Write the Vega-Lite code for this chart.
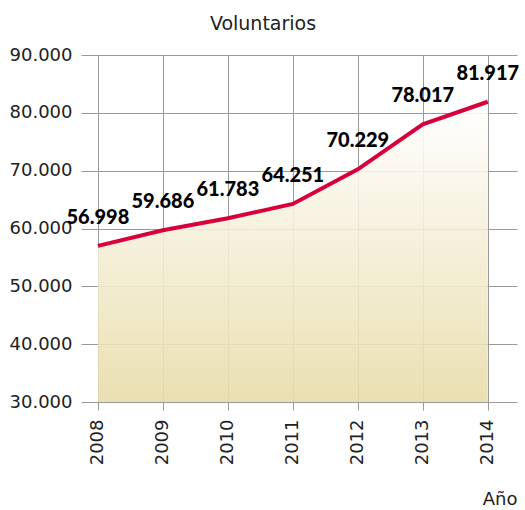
{
  "$schema": "https://vega.github.io/schema/vega-lite/v6.json",
  "autosize": "none",
  "width": 436,
  "height": 347,
  "padding": {"left": 81, "top": 55, "right": 8, "bottom": 108},
  "config": {
    "locale": {"number": {"decimal": ",", "thousands": ".", "grouping": [3], "currency": ["", " €"]}},
    "view": {"stroke": null},
    "font": "DejaVu Sans"
  },
  "title": {
    "text": "Voluntarios",
    "font": "DejaVu Sans",
    "fontSize": 19,
    "fontWeight": "normal",
    "color": "#222222",
    "anchor": "middle",
    "dx": -36,
    "offset": 12
  },
  "data": {
    "values": [
      {"year": 2008, "value": 56998},
      {"year": 2009, "value": 59686},
      {"year": 2010, "value": 61783},
      {"year": 2011, "value": 64251},
      {"year": 2012, "value": 70229},
      {"year": 2013, "value": 78017},
      {"year": 2014, "value": 81917}
    ]
  },
  "encoding": {
    "x": {
      "field": "year",
      "type": "quantitative",
      "scale": {"domain": [2007.74, 2014.45], "nice": false, "zero": false},
      "axis": {
        "values": [2008, 2009, 2010, 2011, 2012, 2013, 2014],
        "format": "d",
        "title": "Año",
        "titleFont": "DejaVu Sans",
        "titleFontSize": 18,
        "titleFontWeight": "normal",
        "titleColor": "#222222",
        "titleAnchor": "end",
        "titleAlign": "right",
        "titlePadding": 26,
        "labelFont": "DejaVu Sans",
        "labelAngle": -90,
        "labelAlign": "right",
        "labelBaseline": "middle",
        "labelFontSize": 18,
        "labelColor": "#222222",
        "labelPadding": 9,
        "tickSize": 8,
        "tickColor": "#999999",
        "domain": false,
        "grid": true,
        "gridColor": "#999999",
        "gridWidth": 1,
        "gridOpacity": 1
      }
    },
    "y": {
      "field": "value",
      "type": "quantitative",
      "scale": {"domain": [30000, 90000], "nice": false, "zero": false},
      "axis": {
        "values": [30000, 40000, 50000, 60000, 70000, 80000, 90000],
        "format": ",.0f",
        "title": null,
        "labelFont": "DejaVu Sans",
        "labelFontSize": 18,
        "labelColor": "#222222",
        "labelPadding": 9,
        "ticks": false,
        "domain": false,
        "grid": true,
        "gridColor": "#999999",
        "gridWidth": 1,
        "gridOpacity": 1
      }
    }
  },
  "layer": [
    {
      "mark": {
        "type": "area",
        "color": {
          "gradient": "linear",
          "x1": 0, "y1": 0, "x2": 0, "y2": 1,
          "stops": [
            {"offset": 0, "color": "#ffffff"},
            {"offset": 1, "color": "#e8dcaa"}
          ]
        },
        "opacity": 0.9
      },
      "encoding": {"y2": {"datum": 30000}}
    },
    {
      "mark": {"type": "line", "color": "#d8003b", "strokeWidth": 4}
    },
    {
      "mark": {"type": "text", "fontSize": 20, "fontWeight": 900, "font": "Lato", "color": "#000000", "dy": -28, "baseline": "middle"},
      "encoding": {"text": {"field": "value", "type": "quantitative", "format": ",.0f"}}
    }
  ]
}
